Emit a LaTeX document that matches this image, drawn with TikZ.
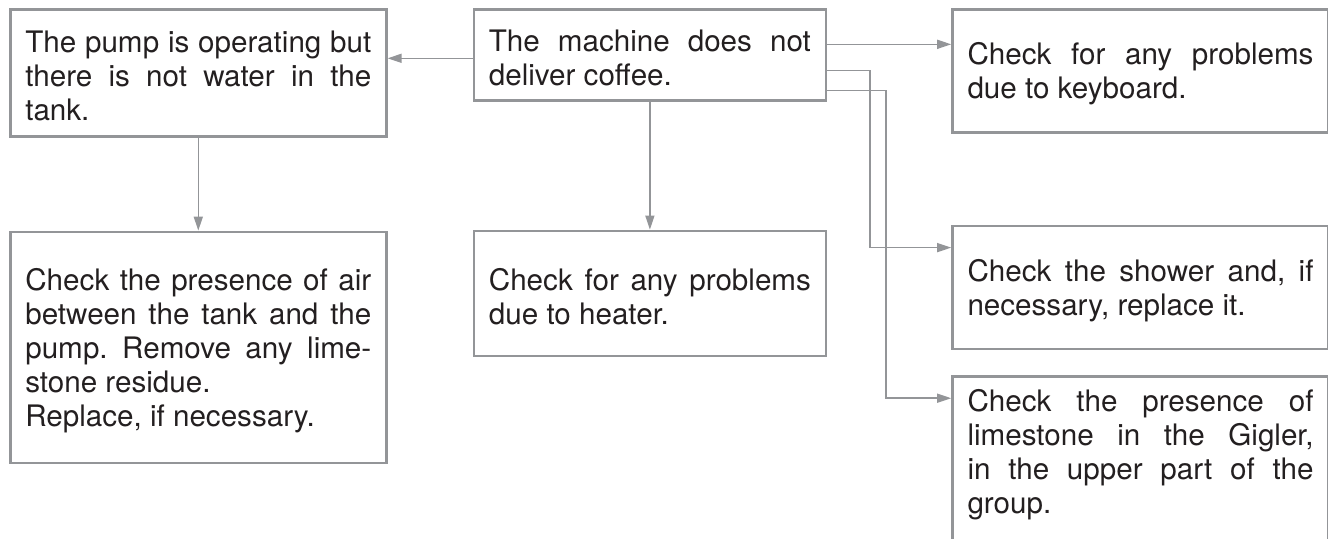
\documentclass[tikz,border=0pt]{standalone}
\usepackage{fontspec}
\setmainfont{TeX Gyre Heros}
\usepackage{tikz}
\usetikzlibrary{
  arrows.meta,
  positioning
}
\tolerance=9999
\hbadness=10000
\frenchspacing
\definecolor{framegray}{RGB}{147,149,152}
\definecolor{textdark}{RGB}{35,31,32}
\tikzset{
  infobox/.style={
    draw=framegray, line width=1.3pt,
    inner xsep=7.5pt, align=justify,
    font=\fontsize{14.8pt}{17pt}\selectfont\color{textdark},
    execute at begin node={\rule{0pt}{14pt}}
  },
  widebox/.style={
    infobox, text width=173pt
  },
  narrowbox/.style={
    infobox, text width=161pt
  },
  flowarrow/.style={
    -{Triangle[length=7pt,width=4.5pt]},
    draw=framegray, line width=0.75pt
  },
}

\begin{document}
\begin{tikzpicture}[node distance=45pt and 42.5pt]

  \useasboundingbox (0,0) rectangle (664pt,-269pt);
  \clip (0,0) rectangle (664pt,-269pt);

  %% Left column
  \node[widebox, minimum height=63.5pt, anchor=north west] (pump) at (4.5pt,-4pt)
    {The pump is operating but\linebreak there is not water in the\linebreak tank.};
  \node[widebox, minimum height=115.5pt, below=46.5pt of pump] (air)
    {Check the presence of air\linebreak between the tank and the\linebreak
     pump. Remove any lime-\linebreak stone residue.\\Replace, if necessary.};

  %% Middle column
  \node[narrowbox, minimum height=45.5pt, right=42.5pt of pump.north east, anchor=north west] (coffee)
    {The machine does not\linebreak deliver coffee.};
  \node[narrowbox, minimum height=62.5pt, below=64pt of coffee] (heater)
    {Check for any problems\linebreak due to heater.};

  %% Right column
  \node[widebox, minimum height=61.5pt, right=62pt of coffee.north east, anchor=north west] (keys)
    {Check for any problems\linebreak due to keyboard.};
  \node[widebox, minimum height=61.5pt, below=45.5pt of keys] (shower)
    {Check the shower and, if\linebreak necessary, replace it.};
  \node[widebox, inner ysep=3.5pt, below=12.5pt of shower] (gigler)
    {Check the presence of\linebreak limestone in the Gigler,\linebreak
     in the upper part of the\linebreak group.\\\mbox{}};

  \draw[flowarrow] ([yshift=-1.75pt]coffee.west) -- ([yshift=-1.75pt]coffee.west -| pump.east);
  \draw[flowarrow] (pump.south) -- (air.north);
  \draw[flowarrow] (coffee.south) -- (heater.north);
  \draw[flowarrow] ([yshift=5.25pt]coffee.east) -- ([yshift=5.25pt]coffee.east -| keys.west);
  \draw[flowarrow] ([yshift=-7.75pt]coffee.east) -- ++(21.5pt,0)
    |- ([yshift=-11.5pt]shower.north west);
  \draw[flowarrow] ([yshift=-17.75pt]coffee.east) -- ++(29.5pt,0)
    |- ([yshift=-11.5pt]gigler.north west);

\end{tikzpicture}
\end{document}
